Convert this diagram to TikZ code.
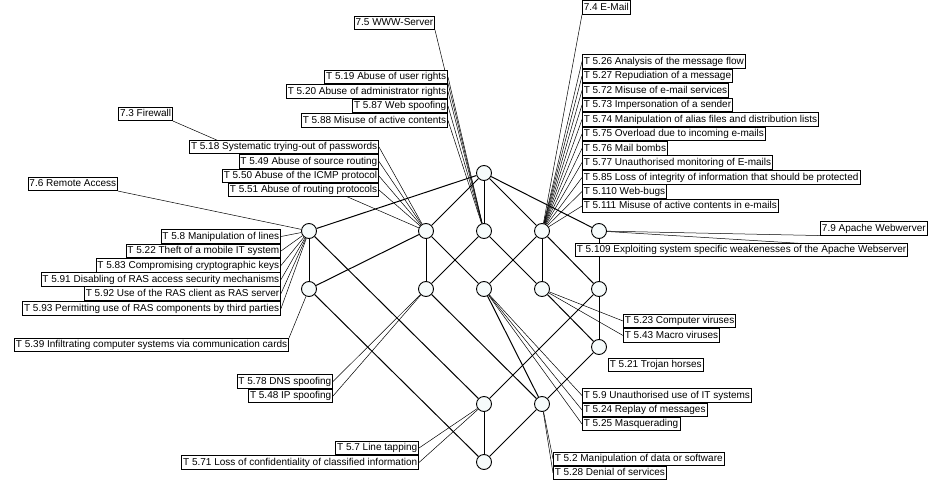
\documentclass[tikz,border=0pt]{standalone}
\usepackage{fontspec}
\setmainfont{Liberation Sans}
\usepackage{tikz}
\usepackage{xcolor}
\definecolor{nodefill}{RGB}{246,251,251}
\pgfdeclarelayer{lines}
\pgfsetlayers{lines,main}

\begin{document}
\begin{tikzpicture}[x=1pt,y=-1pt]
      \useasboundingbox(0,0) rectangle (928,481);
      \tikzset{V/.style = {shape=circle, draw, fill=nodefill, minimum size=15pt, inner sep=0pt, line width=0.9pt}}
      \tikzset{E/.style = {draw, line width=1pt}}
      \tikzset{L/.style = {draw, line width=0.5pt}}
      \tikzset{B/.style = {draw, fill=white, line width=0.6pt, inner xsep=1.5pt, inner ysep=2pt,
        text height=7.5pt, text depth=2pt, font=\fontsize{10}{12}\selectfont}}
      \tikzset{BL/.style = {B, anchor=east}}
      \tikzset{BR/.style = {B, anchor=west}}
      % lattice
      \node[V](top) at (484,173) {};
      \node[V](a1) at (309,231) {};
      \node[V](a2) at (426,231) {};
      \node[V](a3) at (484,231) {};
      \node[V](a4) at (542,231) {};
      \node[V](a5) at (599,231) {};
      \node[V](b1) at (309,289) {};
      \node[V](b2) at (426,289) {};
      \node[V](b3) at (484,289) {};
      \node[V](b4) at (542,289) {};
      \node[V](b5) at (599,289) {};
      \node[V](c5) at (599,347) {};
      \node[V](d3) at (484,404) {};
      \node[V](d4) at (542,404) {};
      \node[V](bot) at (484,462) {};
      % labels
      \node[BL](www) at (435,23) {7.5 WWW-Server};
      \node[BL](t519) at (448,77) {T 5.19 Abuse of user rights};
      \node[BL](t520) at (448,91.5) {T 5.20 Abuse of administrator rights};
      \node[BL](t587) at (448,106) {T 5.87 Web spoofing};
      \node[BL](t588) at (448,120.5) {T 5.88 Misuse of active contents};
      \node[BL](fw) at (173,114) {7.3 Firewall};
      \node[BL](t518) at (379,147) {T 5.18 Systematic trying-out of passwords};
      \node[BL](t549) at (379,161.5) {T 5.49 Abuse of source routing};
      \node[BL](t550) at (379,176) {T 5.50 Abuse of the ICMP protocol};
      \node[BL](t551) at (379,190) {T 5.51 Abuse of routing protocols};
      \node[BL](ras) at (118,184) {7.6 Remote Access};
      \node[BL](t58) at (281,236.5) {T 5.8 Manipulation of lines};
      \node[BL](t522) at (281,251) {T 5.22 Theft of a mobile IT system};
      \node[BL](t583) at (281,265.5) {T 5.83 Compromising cryptographic keys};
      \node[BL](t591) at (281,279.5) {T 5.91 Disabling of RAS access security mechanisms};
      \node[BL](t592) at (281,293.5) {T 5.92 Use of the RAS client as RAS server};
      \node[BL](t593) at (281,308.5) {T 5.93 Permitting use of RAS components by third parties};
      \node[BL](t539) at (289,345) {T 5.39 Infiltrating computer systems via communication cards};
      \node[BL](t578) at (333,381.5) {T 5.78 DNS spoofing};
      \node[BL](t548) at (333,396) {T 5.48 IP spoofing};
      \node[BL](t57) at (419,448) {T 5.7 Line tapping};
      \node[BL](t571) at (419,462.5) {T 5.71 Loss of confidentiality of classified information};
      \node[BR](mail) at (582,7.5) {7.4 E-Mail};
      \node[BR](t526) at (582,61.5) {T 5.26 Analysis of the message flow};
      \node[BR](t527) at (582,76) {T 5.27 Repudiation of a message};
      \node[BR](t572) at (582,90.5) {T 5.72 Misuse of e-mail services};
      \node[BR](t573) at (582,105) {T 5.73 Impersonation of a sender};
      \node[BR](t574) at (582,119.5) {T 5.74 Manipulation of alias files and distribution lists};
      \node[BR](t575) at (582,134) {T 5.75 Overload due to incoming e-mails};
      \node[BR](t576) at (582,148.5) {T 5.76 Mail bombs};
      \node[BR](t577) at (582,162.5) {T 5.77 Unauthorised monitoring of E-mails};
      \node[BR](t585) at (582,177.5) {T 5.85 Loss of integrity of information that should be protected};
      \node[BR](t5110) at (582,191.5) {T 5.110 Web-bugs};
      \node[BR](t5111) at (582,206) {T 5.111 Misuse of active contents in e-mails};
      \node[BL](apache) at (927.5,228.5) {7.9 Apache Webwerver};
      \node[BR](t5109) at (575,250) {T 5.109 Exploiting system specific weakenesses of the Apache Webserver};
      \node[BR](t523) at (623,321) {T 5.23 Computer viruses};
      \node[BR](t543) at (623,335.5) {T 5.43 Macro viruses};
      \node[BR](t521) at (608,365) {T 5.21 Trojan horses};
      \node[BR](t59) at (582,395.5) {T 5.9 Unauthorised use of IT systems};
      \node[BR](t524) at (582,410) {T 5.24 Replay of messages};
      \node[BR](t525) at (582,424) {T 5.25 Masquerading};
      \node[BR](t52) at (553,459) {T 5.2 Manipulation of data or software};
      \node[BR](t528) at (553,473) {T 5.28 Denial of services};
      \begin{pgfonlayer}{lines}
      \draw[E](top) to (a1);
      \draw[E](top) to (a2);
      \draw[E](top) to (a3);
      \draw[E](top) to (a4);
      \draw[E](top) to (a5);
      \draw[E](a1) to (b1);
      \draw[E](a1) to (d3);
      \draw[E](a2) to (b1);
      \draw[E](a2) to (b2);
      \draw[E](a2) to (b3);
      \draw[E](a3) to (b2);
      \draw[E](a3) to (b4);
      \draw[E](a4) to (b3);
      \draw[E](a4) to (b4);
      \draw[E](a4) to (b5);
      \draw[E](a5) to (b5);
      \draw[E](b1) to (bot);
      \draw[E](b2) to (d4);
      \draw[E](b3) to (d4);
      \draw[E](b4) to (c5);
      \draw[E](b5) to (c5);
      \draw[E](b5) to (d3);
      \draw[E](c5) to (d4);
      \draw[E](d3) to (bot);
      \draw[E](d4) to (bot);
      % label lines
      \draw[L](a3) to (www.south east);
      \foreach \l in {t519,t520,t587,t588} \draw[L](a3) to (\l.east);
      \draw[L](a2) to (fw.south east);
      \foreach \l in {t518,t549,t550,t551} \draw[L](a2) to (\l.east);
      \draw[L](a1) to (ras.south east);
      \foreach \l in {t58,t522,t583,t591,t592,t593} \draw[L](a1) to (\l.east);
      \draw[L](b1) to (t539.north east);
      \foreach \l in {t578,t548} \draw[L](b2) to (\l.east);
      \foreach \l in {t57,t571} \draw[L](d3) to (\l.east);
      \draw[L](a4) to (mail.south west);
      \foreach \l in {t526,t527,t572,t573,t574,t575,t576,t577,t585,t5110,t5111} \draw[L](a4) to (\l.west);
      \draw[L](a5) to (apache.south west);
      \draw[L](a5) to (t5109.east);
      \foreach \l in {t523,t543} \draw[L](b4) to (\l.west);
      \foreach \l in {t59,t524,t525} \draw[L](b3) to (\l.west);
      \foreach \l in {t52,t528} \draw[L](d4) to (\l.west);
      \end{pgfonlayer}
    \end{tikzpicture}
\end{document}
